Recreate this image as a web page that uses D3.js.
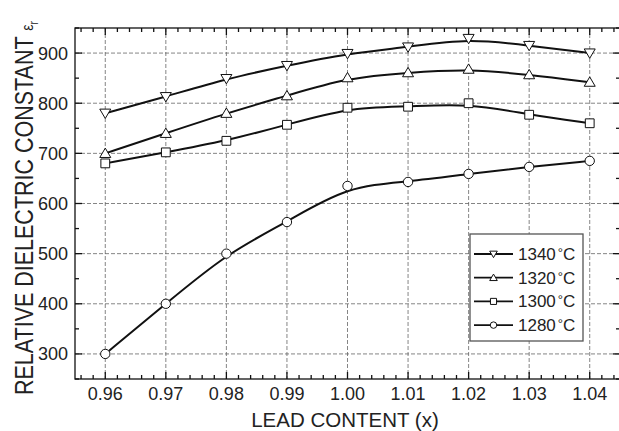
<!DOCTYPE html>
<html>
<head>
<meta charset="utf-8">
<script src="https://cdn.jsdelivr.net/npm/d3@7"></script>
<style>
  body { margin: 0; background: #fff; }
  svg { display: block; font-family: "Liberation Sans", Arial, sans-serif; }
</style>
</head>
<body>
<div id="chart"></div>
<script>
const leadContent = [0.96, 0.97, 0.98, 0.99, 1.00, 1.01, 1.02, 1.03, 1.04];
const temps = ["1340", "1320", "1300", "1280"];
const eps1340 = [780, 813, 849, 875, 899, 912, 929, 915, 900];
const eps1320 = [700, 740, 780, 815, 851, 861, 868, 857, 842];
const eps1300 = [680, 702, 725, 757, 791, 793, 800, 777, 760];
const eps1280 = [300, 400, 500, 563, 635, 643, 659, 673, 685];
const xTicks = [0.96, 0.97, 0.98, 0.99, 1.00, 1.01, 1.02, 1.03, 1.04];
const yTicks = [300, 400, 500, 600, 700, 800, 900];

const series = [
  { name: temps[0], values: eps1340, marker: "down" },
  { name: temps[1], values: eps1320, marker: "up" },
  { name: temps[2], values: eps1300, marker: "square" },
  { name: temps[3], values: eps1280, marker: "circle" }
];

const width = 619, height = 431;
const margin = { left: 75, top: 28, right: -1, bottom: 52 };

const svg = d3.select("#chart").append("svg")
  .attr("width", width)
  .attr("height", height);

const x = d3.scaleLinear().domain([0.955, 1.045]).range([margin.left, width - margin.right]);
const y = d3.scaleLinear().domain([250, 950]).range([height - margin.bottom, margin.top]);

const x0 = x.range()[0], x1 = x.range()[1];
const y0 = y.range()[0], y1 = y.range()[1];

// grid
const grid = svg.append("g").attr("stroke", "#666").attr("stroke-width", 0.8).attr("stroke-dasharray", "4,2");
grid.selectAll(".gx").data(xTicks).join("line")
  .attr("x1", d => x(d)).attr("x2", d => x(d)).attr("y1", y1).attr("y2", y0);
grid.selectAll(".gy").data(yTicks).join("line")
  .attr("x1", x0).attr("x2", x1).attr("y1", d => y(d)).attr("y2", d => y(d));

// minor ticks
const xMinor = d3.range(0.956, 1.045, 0.002).filter(v => Math.abs(Math.round(v * 100) - v * 100) > 1e-6);
const yMinor = d3.range(250, 951, 100);

const axisG = svg.append("g").attr("stroke", "#111").attr("stroke-width", 1.3);
// ticks point inward on all four sides
[[y0, -1], [y1, 1]].forEach(([yy, dir]) => {
  axisG.append("g").selectAll("line").data(xTicks).join("line")
    .attr("x1", d => x(d)).attr("x2", d => x(d)).attr("y1", yy).attr("y2", yy + dir * 7);
  axisG.append("g").selectAll("line").data(xMinor).join("line")
    .attr("x1", d => x(d)).attr("x2", d => x(d)).attr("y1", yy).attr("y2", yy + dir * 4);
});
[[x0, 1], [x1, -1]].forEach(([xx, dir]) => {
  axisG.append("g").selectAll("line").data(yTicks).join("line")
    .attr("y1", d => y(d)).attr("y2", d => y(d)).attr("x1", xx).attr("x2", xx + dir * 7);
  axisG.append("g").selectAll("line").data(yMinor).join("line")
    .attr("y1", d => y(d)).attr("y2", d => y(d)).attr("x1", xx).attr("x2", xx + dir * 4);
});
axisG.append("rect")
  .attr("x", x0).attr("y", y1).attr("width", x1 - x0).attr("height", y0 - y1)
  .attr("fill", "none");

// tick labels
svg.append("g").selectAll("text").data(xTicks).join("text")
  .attr("x", d => x(d)).attr("y", y0 + 21)
  .attr("text-anchor", "middle")
  .attr("font-size", 18).attr("fill", "#222")
  .text(d => d3.format(".2f")(d));
svg.append("g").selectAll("text").data(yTicks).join("text")
  .attr("x", x0 - 7).attr("y", d => y(d) + 6.5)
  .attr("text-anchor", "end")
  .attr("font-size", 18).attr("fill", "#222")
  .text(d => d);

// axis titles
svg.append("text")
  .attr("x", 345).attr("y", 427)
  .attr("text-anchor", "middle")
  .attr("font-size", 20.5).attr("fill", "#222")
  .text("LEAD CONTENT (x)");

const yt = svg.append("text")
  .attr("transform", "translate(33,395) rotate(-90) scale(1,1.2)")
  .attr("font-size", 21.5).attr("fill", "#222");
yt.append("tspan").text("RELATIVE DIELECTRIC CONSTANT ");
yt.append("tspan").attr("font-size", 14).text("ε");
yt.append("tspan").attr("font-size", 10).attr("dy", 4).text("r");

// markers
function markerPath(type, s) {
  const p = d3.path();
  if (type === "down") {
    p.moveTo(-s, -s * 0.75); p.lineTo(s, -s * 0.75); p.lineTo(0, s * 0.95); p.closePath();
  } else if (type === "up") {
    p.moveTo(-s, s * 0.75); p.lineTo(s, s * 0.75); p.lineTo(0, -s * 0.95); p.closePath();
  } else if (type === "square") {
    p.rect(-s * 0.8, -s * 0.8, s * 1.6, s * 1.6);
  } else {
    p.arc(0, 0, s * 0.85, 0, 2 * Math.PI);
  }
  return p.toString();
}

const line = d3.line()
  .x((d, i) => x(leadContent[i]))
  .y(d => y(d))
  .curve(d3.curveBasis);

series.forEach(s => {
  svg.append("path")
    .attr("d", line(s.values))
    .attr("fill", "none")
    .attr("stroke", "#111")
    .attr("stroke-width", 2);
  svg.append("g").selectAll("path").data(s.values).join("path")
    .attr("transform", (d, i) => `translate(${x(leadContent[i])},${y(d)})`)
    .attr("d", markerPath(s.marker, 5.5))
    .attr("fill", "#fff")
    .attr("stroke", "#111")
    .attr("stroke-width", 1);
});

// legend
const lg = svg.append("g");
lg.append("rect")
  .attr("x", 470).attr("y", 234).attr("width", 113).attr("height", 107)
  .attr("fill", "#fff").attr("stroke", "#555").attr("stroke-width", 1.3);
series.forEach((s, i) => {
  const cy = 254 + i * 23.7;
  lg.append("line")
    .attr("x1", 474).attr("x2", 513).attr("y1", cy).attr("y2", cy)
    .attr("stroke", "#111").attr("stroke-width", 1.8);
  lg.append("path")
    .attr("transform", `translate(493.5,${cy})`)
    .attr("d", markerPath(s.marker, 3.8))
    .attr("fill", "#fff").attr("stroke", "#111").attr("stroke-width", 1);
  const t = lg.append("text")
    .attr("x", 518).attr("y", cy + 6)
    .attr("font-size", 17).attr("fill", "#222");
  t.append("tspan").text(s.name);
  t.append("tspan").attr("font-size", 13).attr("dx", 2).attr("dy", -3).text("°");
  t.append("tspan").attr("dy", 3).text("C");
});
</script>
</body>
</html>
